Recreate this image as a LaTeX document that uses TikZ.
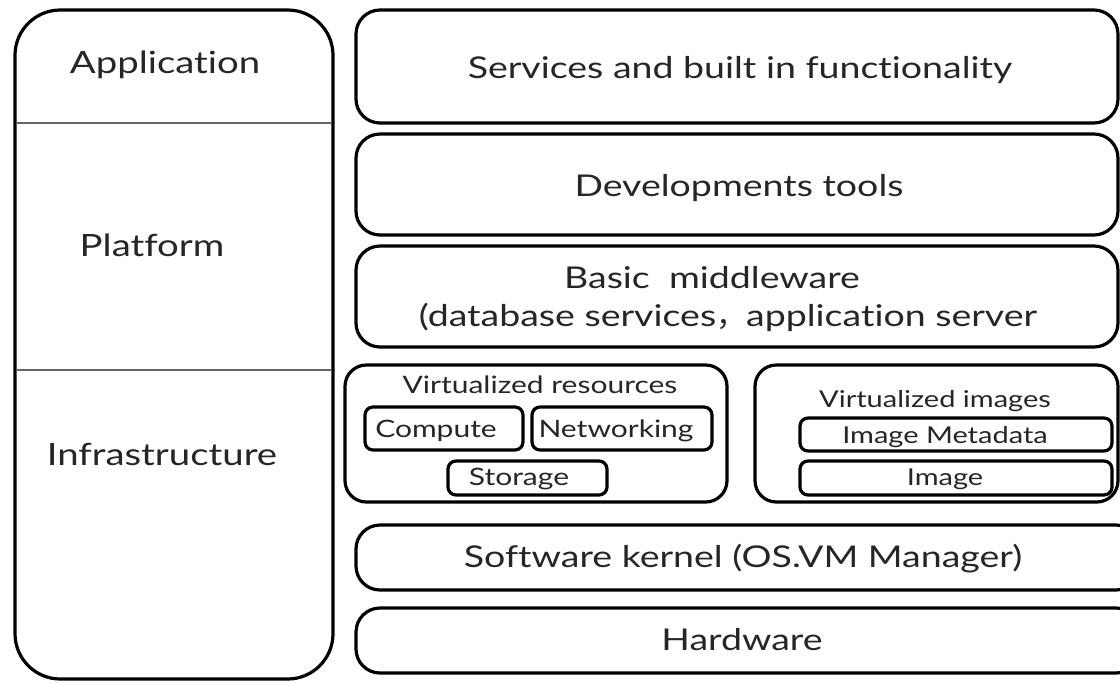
\documentclass[tikz,border=0pt]{standalone}
\usepackage{fontspec}
\setmainfont{Lato}[FakeStretch=1.25, Ligatures={NoCommon}]
\newfontfamily\cjk{Noto Sans CJK SC}
\newcommand\panel[7]{\node[#1, minimum width={(#5-#3)*0.75pt}, minimum height={(#6-#4)*0.75pt}] (#2) at ({(#3+#5)/2},{(#4+#6)/2}) {#7};}
\begin{document}
\begin{tikzpicture}[x=0.75pt,y=-0.75pt,
  frame/.style={draw=black, line width=2.4pt, inner sep=0pt, outer sep=0pt, fill=white},
  bigframe/.style={frame, rounded corners=34pt},
  layer/.style={frame, rounded corners=18pt},
  group/.style={frame, rounded corners=16pt},
  item/.style={frame, rounded corners=6pt},
  divider/.style={draw=black!60, line width=1.4pt},
  biglabel/.style={text=black!85, font=\fontsize{23}{27}\selectfont, anchor=base, inner sep=0pt},
  layertext/.style={text=black!85, font=\fontsize{22.5}{26}\selectfont, anchor=base, inner sep=0pt},
  smalltext/.style={text=black!85, font=\fontsize{18}{21}\selectfont, anchor=base, inner sep=0pt},
  smallertext/.style={smalltext, font=\fontsize{17.4}{21}\selectfont}
]
\useasboundingbox (0,0) rectangle (1120,683);
\clip (0,0) rectangle (1120,683);
\fill[white] (0,0) rectangle (1120,683);

% left column
\panel{bigframe}{leftcol}{15}{10}{333}{679}{}
\draw[divider] (17,123) -- (331,123);
\draw[divider] (17,370) -- (331,370);
\node[biglabel] (app) at (165,73) {Application};
\node[biglabel] (plat) at (152,256) {Platform};
\node[biglabel] (infra) at (162,465) {Infrastructure};

% layers
\panel{layer}{services}{356}{10}{1118}{123}{}
\node[layertext] (servicesT) at (740,78) {Services and built in functionality};
\panel{layer}{devtools}{356}{134}{1118}{235}{}
\node[layertext] (devtoolsT) at (739,196) {Developments tools};
\panel{layer}{middleware}{356}{246}{1118}{347}{}
\node[layertext] (mwA) at (712,288) {Basic\ \ middleware};
\node[layertext] (mwB) at (728,326) {(database services{\cjk ，}application server};

% virtualized resources
\panel{group}{vres}{345}{365}{727}{502}{}
\node[smalltext] (vresT) at (540,393) {Virtualized resources};
\panel{item}{compute}{365}{407}{523}{450}{}
\node[smalltext] (computeT) at (436,437) {Compute};
\panel{item}{network}{532}{407}{712}{450}{}
\node[smalltext] (networkT) at (616,437) {Networking};
\panel{item}{storage}{448}{461}{607}{495}{}
\node[smalltext] (storageT) at (519,485) {Storage};

% virtualized images
\panel{group}{vimg}{755}{365}{1118}{502}{}
\node[smallertext] (vimgT) at (935,407) {Virtualized images};
\panel{item}{meta}{800}{418}{1112}{451}{}
\node[smallertext] (metaT) at (945,443) {Image Metadata};
\panel{item}{image}{800}{461}{1112}{495}{}
\node[smallertext] (imageT) at (945,485) {Image};

% bottom layers (cut off at the right edge)
\panel{layer}{kernel}{356}{525}{1140}{590}{}
\node[layertext] (kernelT) at (743,567) {Software kernel (OS.VM Manager)};
\panel{layer}{hardware}{356}{608}{1140}{673}{}
\node[layertext] (hardwareT) at (742,650) {Hardware};
\end{tikzpicture}
\end{document}
